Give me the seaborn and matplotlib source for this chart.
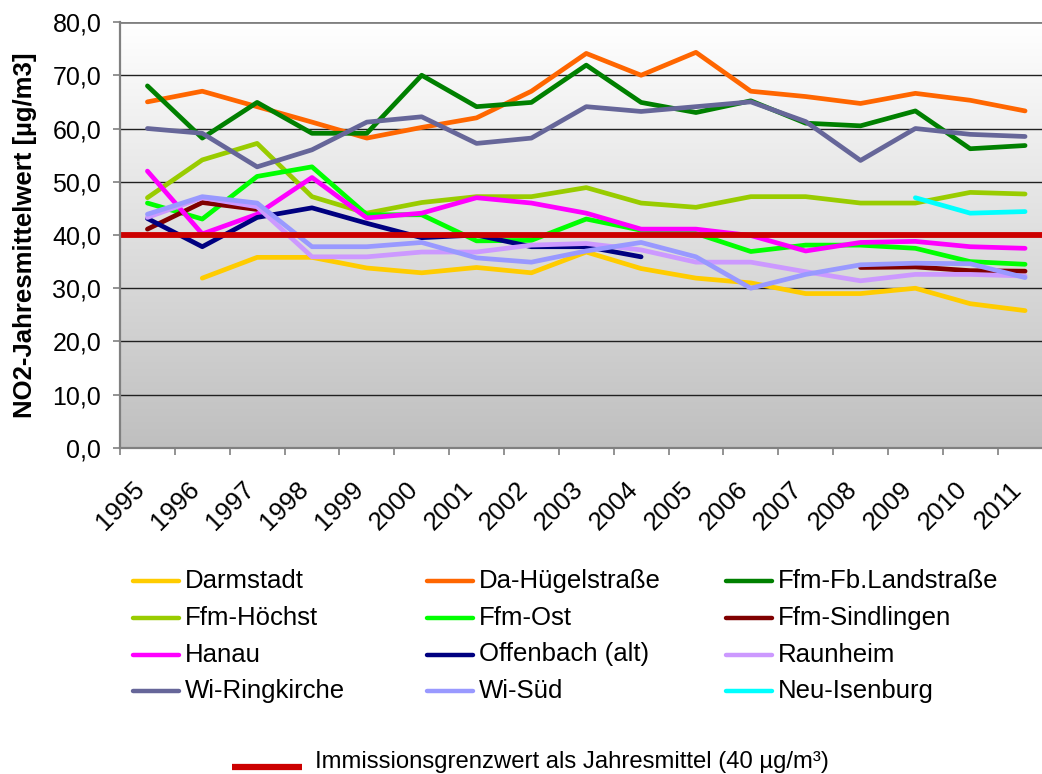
import numpy as np
import pandas as pd
import matplotlib
matplotlib.use("Agg")
import matplotlib.pyplot as plt
from matplotlib.lines import Line2D
import seaborn as sns

# ---------------- data ----------------
years = [str(y) for y in range(1995, 2012)]
nan = np.nan

darmstadt = [nan, 31.9, 35.8, 35.8, 33.8, 32.9, 33.9, 32.9, 36.8, 33.7, 31.9, 31.0, 29.0, 29.0, 30.0, 27.1, 25.8]
da_huegel = [65.0, 67.0, 64.1, 61.2, 58.2, 60.2, 62.0, 67.0, 74.1, 70.0, 74.3, 67.0, 66.0, 64.7, 66.6, 65.3, 63.3]
ffm_fb = [68.0, 58.2, 64.9, 59.1, 59.1, 70.0, 64.1, 64.9, 71.9, 64.9, 63.0, 65.2, 61.0, 60.5, 63.3, 56.2, 56.8]
ffm_hoechst = [47.0, 54.1, 57.2, 47.2, 44.1, 46.1, 47.2, 47.2, 48.9, 46.0, 45.2, 47.2, 47.2, 46.0, 46.0, 48.0, 47.7]
ffm_ost = [46.0, 43.0, 51.0, 52.8, 43.8, 43.8, 38.9, 39.0, 43.0, 40.9, 40.3, 36.9, 38.1, 38.1, 37.5, 35.0, 34.5]
ffm_sindlingen = [41.1, 46.1, 44.8, nan, nan, nan, nan, nan, nan, nan, nan, nan, nan, 33.9, 34.0, 33.3, 33.2]
hanau = [52.0, 40.2, 43.9, 50.8, 43.2, 44.1, 47.0, 46.0, 44.1, 41.1, 41.1, 39.9, 37.0, 38.6, 38.8, 37.8, 37.5]
offenbach = [43.1, 37.8, 43.3, 45.1, 42.2, 39.5, 40.0, 37.8, 37.8, 35.9, nan, nan, nan, nan, nan, nan, nan]
raunheim = [43.3, 47.0, 45.3, 35.9, 35.9, 36.8, 36.8, 38.1, 38.4, 37.2, 34.9, 34.9, 33.1, 31.4, 32.6, 32.6, 32.3]
wi_ring = [60.0, 59.1, 52.8, 56.0, 61.2, 62.2, 57.2, 58.2, 64.1, 63.2, 64.1, 65.0, 61.3, 54.0, 60.0, 58.9, 58.5]
wi_sued = [43.9, 47.2, 46.0, 37.8, 37.8, 38.6, 35.7, 34.9, 37.0, 38.6, 35.9, 30.0, 32.6, 34.4, 34.7, 34.6, 32.0]
neu_isenburg = [nan] * 14 + [47.0, 44.1, 44.4]

limit_value = 40.0

stations = ["Darmstadt", "Da-Hügelstraße", "Ffm-Fb.Landstraße", "Ffm-Höchst", "Ffm-Ost",
            "Ffm-Sindlingen", "Hanau", "Offenbach (alt)", "Raunheim", "Wi-Ringkirche",
            "Wi-Süd", "Neu-Isenburg"]
series = [darmstadt, da_huegel, ffm_fb, ffm_hoechst, ffm_ost, ffm_sindlingen, hanau,
          offenbach, raunheim, wi_ring, wi_sued, neu_isenburg]
colors = ["#FFCC00", "#FF6600", "#008000", "#99CC00", "#00FF00", "#800000", "#FF00FF",
          "#000080", "#CC99FF", "#666699", "#9999FF", "#00FFFF"]
limit_color = "#CC0000"
limit_label = "Immissionsgrenzwert als Jahresmittel (40 µg/m³)"
y_ticks = [0, 10, 20, 30, 40, 50, 60, 70, 80]

# ---------------- long-form table (segments split at gaps) ----------------
rows = []
for name, vals in zip(stations, series):
    seg = 0
    prev_nan = True
    for i, v in enumerate(vals):
        if np.isnan(v):
            prev_nan = True
            continue
        if prev_nan:
            seg += 1
        prev_nan = False
        rows.append({"pos": i, "value": v, "station": name, "seg": f"{name}_{seg}"})
df = pd.DataFrame(rows)

# ---------------- figure ----------------
sns.set_theme(style="white")
plt.rcParams["font.family"] = ["Liberation Sans", "DejaVu Sans"]
plt.rcParams["text.color"] = "black"
plt.rcParams["axes.labelcolor"] = "black"
plt.rcParams["xtick.labelcolor"] = "black"
plt.rcParams["ytick.labelcolor"] = "black"

W, H = 1042, 774
fig = plt.figure(figsize=(W / 100, H / 100), dpi=100)
fig.patch.set_facecolor("white")

def px(x0, y0, x1, y1):
    return [x0 / W, 1 - y1 / H, (x1 - x0) / W, (y1 - y0) / H]

ax = fig.add_axes(px(120, 22, 1052.5, 448))
n = len(years)
ax.set_xlim(-0.5, n - 0.5)
ax.set_ylim(0, 80)

# gradient background
grad = np.linspace(1.0, 0.0, 256).reshape(-1, 1)
top = np.array([1.0, 1.0, 1.0])
bot = np.array([0.75, 0.75, 0.75])
img = bot + (top - bot) * grad[..., None]
ax.imshow(img, extent=[-0.5, n - 0.5, 0, 80], aspect="auto", zorder=0,
          interpolation="bilinear")

# gridlines
for t in y_ticks[1:]:
    ax.axhline(t, color="#808080" if t == 80 else "#202020",
               lw=2 if t == 80 else 1.0, zorder=1)

sns.lineplot(data=df, x="pos", y="value", hue="station", units="seg", estimator=None,
             hue_order=stations, palette=dict(zip(stations, colors)), sort=False,
             linewidth=3.4, legend=False, ax=ax, zorder=3,
             solid_capstyle="round", solid_joinstyle="round")

ax.axhline(limit_value, color=limit_color, lw=4.2, zorder=4)

# axes styling
for s in ["top", "right"]:
    ax.spines[s].set_visible(False)
for s in ["left", "bottom"]:
    ax.spines[s].set_color("#808080")
    ax.spines[s].set_linewidth(1.6)
    ax.spines[s].set_zorder(5)

ax.set_yticks(y_ticks)
ax.set_yticklabels([f"{t:.1f}".replace(".", ",") for t in y_ticks], fontsize=18,
                   color="black")
ax.tick_params(axis="y", direction="out", length=5, width=1.2, color="#808080",
               pad=8.5, left=True)

# category labels: anchored slightly left of each category centre
label_shift = 0.28
ax.set_xticks(np.arange(n) - label_shift)
ax.set_xticks(np.arange(-0.5, n, 1.0), minor=True)
ax.tick_params(axis="x", which="major", length=0, pad=21)
ax.tick_params(axis="x", which="minor", direction="out", length=5, width=1.2,
               color="#808080", bottom=True)
ax.set_xticklabels(years, fontsize=18.5, rotation=45, ha="right", va="top",
                   rotation_mode="anchor", color="black")

ax.set_xlabel("")
ax.set_ylabel("NO2-Jahresmittelwert [µg/m3]", fontsize=18.5, fontweight="bold",
              color="black")
ax.yaxis.set_label_coords(-(120 - 37) / 932.5, 0.5)

# ---------------- legend (3 columns, row-major) ----------------
col_text_x = [185, 479, 778]
row_y = [581, 618, 654.5, 691]
for i, (name, col) in enumerate(zip(stations, colors)):
    r, c = divmod(i, 3)
    tx = col_text_x[c]
    yy = row_y[r]
    fig.add_artist(Line2D([(tx - 52) / W, (tx - 6) / W], [1 - yy / H, 1 - yy / H],
                          color=col, lw=3.2, solid_capstyle="round",
                          transform=fig.transFigure))
    fig.text(tx / W, 1 - yy / H, name, fontsize=18.5, ha="left", va="center",
             color="black")

fig.add_artist(Line2D([232 / W, 302 / W], [1 - 767 / H, 1 - 767 / H], color=limit_color,
                      lw=4.5, solid_capstyle="butt", transform=fig.transFigure))
fig.text(315 / W, 1 - 762 / H, limit_label, fontsize=17.2, ha="left", va="center",
         color="black")

fig.savefig("out.png", dpi=100, facecolor="white")
